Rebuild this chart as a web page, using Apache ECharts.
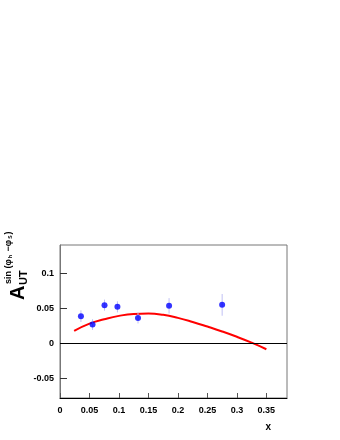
<!DOCTYPE html>
<html>
<head>
<meta charset="utf-8">
<script src="https://cdn.jsdelivr.net/npm/echarts@6/dist/echarts.min.js"></script>
<style>html,body{margin:0;padding:0;background:#fff}#c{width:340px;height:440px}</style>
</head>
<body>
<div id="c"></div>
<script>
// Measured points
var xVals = [0.0355, 0.0552, 0.0755, 0.0974, 0.1323, 0.185, 0.275];
var yVals = [0.0386, 0.0266, 0.0543, 0.0519, 0.0361, 0.0533, 0.0547];
var yErr  = [0.0083, 0.0076, 0.0079, 0.0079, 0.0079, 0.0110, 0.0155];
// Model curve
var curveX = [0.024, 0.05, 0.075, 0.1, 0.125, 0.15, 0.175, 0.2, 0.225, 0.25, 0.275, 0.3, 0.325, 0.35];
var curveY = [0.0176, 0.0280, 0.0342, 0.0390, 0.0417, 0.0423, 0.0405, 0.0362, 0.0304, 0.0238, 0.0168, 0.0092, 0.0008, -0.0085];
var xTicks = ['0','0.05','0.1','0.15','0.2','0.25','0.3','0.35'];
var yTicks = ['-0.05','0','0.05','0.1'];

var chart = echarts.init(document.getElementById('c'));
var pts = xVals.map(function(x,i){return [x, yVals[i], yErr[i]];});
var curve = curveX.map(function(x,i){return [x, curveY[i]];});
var FONT = 'Liberation Sans';
function fmt(v){
  var s = String(Math.round(v*1000)/1000);
  return s;
}
chart.setOption({
  animation:false,
  grid:{left:60, right:53, top:245, bottom:42},
  xAxis:{type:'value', min:0, max:0.385, interval:0.05,
    axisLine:{show:true, onZero:false, lineStyle:{color:'#000', width:1}},
    axisTick:{show:true, inside:true, length:5, lineStyle:{color:'#555'}},
    splitLine:{show:false},
    axisLabel:{margin:8, fontFamily:FONT, fontWeight:'bold', fontSize:9, color:'#000', showMaxLabel:false,
      formatter:function(v){var s=fmt(v); return xTicks.indexOf(s)>=0 ? s : '';}}
  },
  yAxis:{type:'value', min:-0.078, max:0.14, minInterval:0.05, maxInterval:0.05, splitNumber:5,
    axisLine:{show:true, onZero:false, lineStyle:{color:'#777', width:1}},
    axisTick:{show:true, inside:true, length:7, lineStyle:{color:'#333'}},
    splitLine:{show:false},
    axisLabel:{margin:6, fontFamily:FONT, fontWeight:'bold', fontSize:9, color:'#000', showMinLabel:false, showMaxLabel:false,
      formatter:function(v){var s=fmt(v); return yTicks.indexOf(s)>=0 ? s : '';}}
  },
  graphic:[
    {type:'rect', shape:{x:60, y:245, width:227, height:153}, style:{fill:'none', stroke:'#777', lineWidth:1}, silent:true, z:-1},
    {type:'text', x:28, y:300, rotation:Math.PI/2, style:{text:'A', font:'bold 20px "Liberation Sans"', fill:'#000', textAlign:'left', textVerticalAlign:'bottom'}},
    {type:'text', x:29, y:285, rotation:Math.PI/2, style:{text:'UT', font:'bold 11px "Liberation Sans"', fill:'#000', textAlign:'left', textVerticalAlign:'bottom'}},
    {type:'text', x:13, y:284, rotation:Math.PI/2, style:{text:'sin (φ{h|h} −φ{s|S})', font:'bold 9px "Liberation Sans"', fill:'#000', textAlign:'left', textVerticalAlign:'bottom',
      rich:{h:{font:'bold 5px "Liberation Sans"', verticalAlign:'bottom', padding:[0,1,0,1]}, s:{font:'bold 5px "Liberation Sans"', verticalAlign:'bottom', padding:[0,1,0,1]}}}},
    {type:'text', x:271, y:432, style:{text:'x', font:'bold 10px "Liberation Sans"', fill:'#000', textAlign:'right', textVerticalAlign:'bottom'}}
  ],
  series:[
    {type:'line', data:curve, smooth:0.5, showSymbol:false, lineStyle:{color:'#ff0000', width:2}, z:3,
      markLine:{silent:true, symbol:'none', label:{show:false}, lineStyle:{color:'#000', width:1, type:'solid'}, data:[{yAxis:0}]}},
    {type:'custom', data:pts, z:4,
      renderItem:function(params, api){
        var x=api.value(0), y=api.value(1), e=api.value(2);
        var p1=api.coord([x,y-e]), p2=api.coord([x,y+e]);
        return {type:'line', shape:{x1:p1[0], y1:p1[1], x2:p2[0], y2:p2[1]}, style:{stroke:'#c0c0f4', lineWidth:1}};
      }},
    {type:'scatter', data:pts.map(function(p){return [p[0],p[1]];}), symbol:'circle', symbolSize:6, itemStyle:{color:'#0000ff'}, z:5}
  ]
});
</script>
</body>
</html>
